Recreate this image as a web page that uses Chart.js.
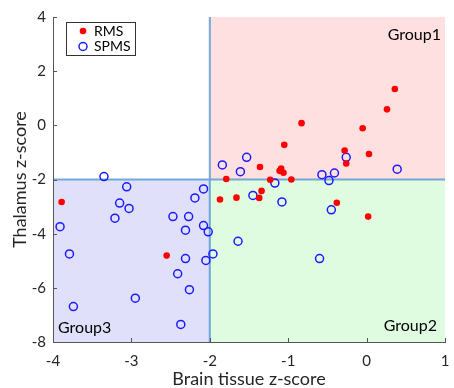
<!DOCTYPE html>
<html>
<head>
<meta charset="utf-8">
<script src="https://cdn.jsdelivr.net/npm/chart.js@4/dist/chart.umd.min.js"></script>
<style>
  body { margin: 0; background: #fff; }
  #wrap { width: 454px; height: 388px; }
</style>
</head>
<body>
<div id="wrap"><canvas id="chart" width="454" height="388"></canvas></div>
<script>
// RMS patients (filled red)
const rmsX = [0.36, 0.26, -0.83, -0.05, -1.05, -0.28, 0.03, -0.26, -1.36, -1.09, -1.11, -1.06,
  -1.79, -1.23, -0.96, -1.34, -1.37, -1.87, -1.66, -0.38, 0.02, -3.89, -2.55];
const rmsY = [1.34, 0.59, 0.08, -0.11, -0.72, -0.93, -1.06, -1.41, -1.54, -1.60, -1.68, -1.75,
  -1.98, -2.01, -2.00, -2.42, -2.68, -2.74, -2.67, -2.86, -3.37, -2.83, -4.81];

// SPMS patients (open blue)
const spmsX = [-1.53, -1.61, -0.26, -0.57, -0.41, -0.48, 0.39, -1.17, -1.84, -3.35, -3.06, -3.15,
  -3.03, -3.21, -3.91, -3.79, -3.74, -2.95, -2.47, -2.27, -2.31, -2.08, -2.19, -2.08, -2.02,
  -2.31, -2.05, -1.96, -2.41, -2.26, -2.37, -1.64, -1.45, -1.08, -0.45, -0.60];
const spmsY = [-1.18, -1.71, -1.18, -1.82, -1.76, -2.04, -1.62, -2.13, -1.46, -1.89, -2.27, -2.87,
  -3.07, -3.43, -3.74, -4.75, -6.69, -6.38, -3.37, -3.37, -3.87, -2.35, -2.68, -3.70, -3.93,
  -4.92, -4.99, -4.75, -5.48, -6.07, -7.35, -4.28, -2.59, -2.83, -3.12, -4.92];

const xTicks = [-4, -3, -2, -1, 0, 1];
const yTicks = [-8, -6, -4, -2, 0, 2, 4];
const cutoff = -2;

// quadrants: [xmin, xmax, ymin, ymax]
const groupNames = ["Group1", "Group2", "Group3"];
const groupBounds = [[-2, 1, -2, 4], [-2, 1, -8, -2], [-4, -2, -8, -2]];
const groupFills = ["rgba(255,0,0,0.12)", "rgba(0,230,0,0.12)", "rgba(0,0,220,0.12)"];

const FONT = "Lato, 'Open Sans', sans-serif";

function toPoints(xs, ys) {
  return xs.map((x, i) => ({ x: x, y: ys[i] }));
}

const quadrantPlugin = {
  id: "quadrants",
  beforeDraw(chart) {
    const { ctx, scales: { x, y } } = chart;
    ctx.save();
    groupBounds.forEach((b, i) => {
      const x0 = x.getPixelForValue(b[0]);
      const x1 = x.getPixelForValue(b[1]);
      const y0 = y.getPixelForValue(b[3]);
      const y1 = y.getPixelForValue(b[2]);
      ctx.fillStyle = groupFills[i];
      ctx.fillRect(x0, y0, x1 - x0, y1 - y0);
    });
    ctx.restore();
  },
  beforeDatasetsDraw(chart) {
    const { ctx, chartArea: a, scales: { x, y } } = chart;
    ctx.save();
    // cutoff lines
    ctx.strokeStyle = "rgba(30,120,200,0.6)";
    ctx.lineWidth = 2;
    const cx = x.getPixelForValue(cutoff);
    const cy = y.getPixelForValue(cutoff);
    ctx.beginPath();
    ctx.moveTo(cx, a.top);
    ctx.lineTo(cx, a.bottom);
    ctx.moveTo(a.left, cy);
    ctx.lineTo(a.right, cy);
    ctx.stroke();

    // group labels
    ctx.fillStyle = "#000";
    ctx.font = "16px " + FONT;
    ctx.textBaseline = "middle";
    ctx.textAlign = "right";
    ctx.fillText(groupNames[0], a.right - 4, a.top + 18);
    ctx.fillText(groupNames[1], a.right - 8, a.bottom - 16);
    ctx.textAlign = "left";
    ctx.fillText(groupNames[2], a.left + 5, a.bottom - 14);
    ctx.restore();
  },
  afterDraw(chart) {
    const { ctx, chartArea: a, scales: { x, y } } = chart;
    ctx.save();
    // inward tick marks
    ctx.strokeStyle = "#555";
    ctx.lineWidth = 1;
    ctx.beginPath();
    x.ticks.forEach(t => {
      const px = Math.round(x.getPixelForValue(t.value)) + 0.5;
      ctx.moveTo(px, a.bottom);
      ctx.lineTo(px, a.bottom - 4);
    });
    y.ticks.forEach(t => {
      const py = Math.round(y.getPixelForValue(t.value)) + 0.5;
      ctx.moveTo(a.left, py);
      ctx.lineTo(a.left + 4, py);
    });
    ctx.stroke();

    // legend box
    const lx = a.left + 13, ly = a.top + 5, lw = 69, lh = 33;
    ctx.fillStyle = "#fff";
    ctx.fillRect(lx, ly, lw, lh);
    ctx.strokeStyle = "#333";
    ctx.strokeRect(lx + 0.5, ly + 0.5, lw, lh);
    chart.data.datasets.forEach((ds, i) => {
      const my = ly + 9 + i * 15.5;
      ctx.beginPath();
      ctx.arc(lx + 17, my, ds.pointRadius, 0, Math.PI * 2);
      if (ds.pointBackgroundColor !== "transparent") {
        ctx.fillStyle = ds.pointBackgroundColor;
        ctx.fill();
      } else {
        ctx.strokeStyle = ds.pointBorderColor;
        ctx.lineWidth = ds.pointBorderWidth;
        ctx.stroke();
      }
      ctx.fillStyle = "#000";
      ctx.font = "14px " + FONT;
      ctx.textAlign = "left";
      ctx.textBaseline = "middle";
      ctx.fillText(ds.label, lx + 28, my);
    });
    ctx.restore();
  }
};

new Chart(document.getElementById("chart").getContext("2d"), {
  type: "scatter",
  data: {
    datasets: [
      {
        label: "RMS",
        data: toPoints(rmsX, rmsY),
        pointRadius: 3.3,
        pointBackgroundColor: "#ff0000",
        pointBorderColor: "#ff0000",
        pointBorderWidth: 0
      },
      {
        label: "SPMS",
        data: toPoints(spmsX, spmsY),
        pointRadius: 4,
        pointBackgroundColor: "transparent",
        pointBorderColor: "#1a1aff",
        pointBorderWidth: 1.5
      }
    ]
  },
  options: {
    responsive: false,
    animation: false,
    layout: { padding: { top: 17, right: 9, left: 0, bottom: 0 } },
    plugins: {
      legend: { display: false },
      tooltip: { enabled: false }
    },
    scales: {
      x: {
        type: "linear",
        min: -4,
        max: 1,
        afterBuildTicks: s => { s.ticks = xTicks.map(v => ({ value: v })); },
        afterFit: s => { s.height = 46; s.paddingRight = 0; s.paddingLeft = 0; },
        ticks: { color: "#262626", font: { family: FONT, size: 15 }, padding: 10 },
        grid: { display: true, drawOnChartArea: false, drawTicks: false },
        border: { color: "#555", width: 1 },
        title: {
          display: true,
          text: "Brain tissue z-score",
          color: "#262626",
          font: { family: FONT, size: 18, lineHeight: 1 },
          padding: 0
        }
      },
      y: {
        type: "linear",
        min: -8,
        max: 4,
        afterBuildTicks: s => { s.ticks = yTicks.map(v => ({ value: v })); },
        afterFit: s => { s.width = 53; s.paddingTop = 0; s.paddingBottom = 0; },
        ticks: { color: "#262626", font: { family: FONT, size: 15 }, padding: 7 },
        grid: { display: true, drawOnChartArea: false, drawTicks: false },
        border: { color: "#555", width: 1 },
        title: {
          display: true,
          text: "Thalamus z-score",
          color: "#262626",
          font: { family: FONT, size: 18, lineHeight: 1 },
          padding: { top: 11, bottom: 0 }
        }
      }
    }
  },
  plugins: [quadrantPlugin]
});
</script>
</body>
</html>
